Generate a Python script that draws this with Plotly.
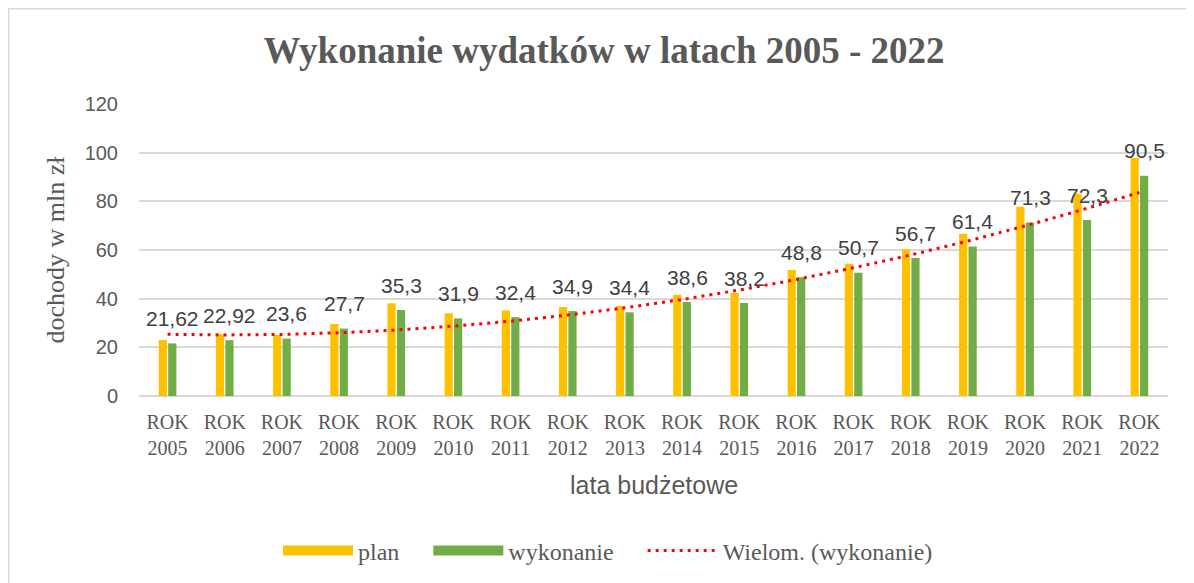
import numpy as np
import plotly.graph_objects as go

years = list(range(2005, 2023))
categories = [f"ROK<br>{y}" for y in years]
plan = [23.0, 25.4, 25.1, 29.6, 38.1, 34.0, 35.1, 36.6, 37.0, 41.6, 42.3, 51.8, 54.4, 60.3, 66.7, 77.8, 83.1, 97.8]
wykonanie = [21.62, 22.92, 23.6, 27.7, 35.3, 31.9, 32.4, 34.9, 34.4, 38.6, 38.2, 48.8, 50.7, 56.7, 61.4, 71.3, 72.3, 90.5]
y_ticks = [0, 20, 40, 60, 80, 100, 120]

# polynomial (order 2) trendline of "wykonanie", like Excel's "Wielom."
xi = np.arange(1, len(wykonanie) + 1)
coef = np.polyfit(xi, wykonanie, 2)
trend = np.polyval(coef, xi)

GRAY = "#595959"
SERIF = "Liberation Serif, Times New Roman, serif"
SANS = "Liberation Sans, Arial, sans-serif"
PLAN_C = "#FFC000"
WYK_C = "#70AD47"
PAD = "\u00a0" * 4

W, H = 1186, 575
L, T, R, B = 131, 96, 26, 187
PW, PH = W - L - R, H - T - B

fig = go.Figure()
fig.add_trace(go.Bar(name="plan", x=categories, y=plan, marker_color=PLAN_C,
                     marker_line_width=0, showlegend=False))
fig.add_trace(go.Bar(name="wykonanie", x=categories, y=wykonanie, marker_color=WYK_C,
                     marker_line_width=0, showlegend=False))
fig.add_trace(go.Scatter(name="Wielom. (wykonanie)", x=categories, y=trend, mode="lines",
                         line=dict(color="#FF0000", width=3, dash="3px,5px"), showlegend=False))
# legend entries (wide swatches like the original)
fig.add_trace(go.Scatter(name="plan" + PAD, x=[None], y=[None], mode="lines",
                         line=dict(color=PLAN_C, width=11)))
fig.add_trace(go.Scatter(name="wykonanie" + PAD, x=[None], y=[None], mode="lines",
                         line=dict(color=WYK_C, width=11)))
fig.add_trace(go.Scatter(name="Wielom. (wykonanie)", x=[None], y=[None], mode="lines",
                         line=dict(color="#FF0000", width=3, dash="3px,5px")))

annotations = []
for c, v in zip(categories, wykonanie):
    annotations.append(dict(x=c, y=v, xref="x", yref="y", text=f"{v:g}".replace(".", ","),
                            showarrow=False, xshift=5, yshift=25, yanchor="middle",
                            font=dict(family=SANS, size=21, color="#404040")))
annotations.append(dict(x=0.5, y=(PH - (485 - 8 - T)) / PH, xref="paper", yref="paper",
                        text="lata budżetowe", showarrow=False, yanchor="middle",
                        font=dict(family=SANS, size=25, color=GRAY)))
fig.update_layout(annotations=annotations)

fig.add_shape(type="rect", xref="paper", yref="paper",
              x0=(-L + 0.75) / PW, x1=(W - L + 10) / PW,
              y0=-(B + 10) / PH, y1=(PH + T - 0.75) / PH,
              line=dict(color="#D9D9D9", width=1.5), fillcolor="rgba(0,0,0,0)", layer="below")

fig.update_layout(
    width=W, height=H,
    margin=dict(l=L, r=R, t=T, b=B, autoexpand=False),
    paper_bgcolor="white", plot_bgcolor="white",
    barmode="group", bargap=0.67, bargroupgap=0.13,
    title=dict(text="<b>Wykonanie wydatków w latach 2005 - 2022</b>", x=(604 - 8) / W,
               xanchor="center", y=1 - 42 / H, yanchor="middle", yref="container",
               font=dict(family=SERIF, size=37, color=GRAY)),
    xaxis=dict(tickfont=dict(family=SERIF, size=20, color=GRAY), showgrid=False,
               showline=False, ticks="", ticklabelstandoff=12),
    yaxis=dict(range=[0, 120], tickvals=y_ticks, showgrid=True, gridcolor="#D9D9D9",
               gridwidth=1.5, zeroline=True, zerolinecolor="#D9D9D9", zerolinewidth=1.5,
               tickfont=dict(family=SANS, size=20, color=GRAY), ticks="", ticklen=0,
               ticklabelstandoff=20,
               title=dict(text="dochody w mln zł", font=dict(family=SERIF, size=26, color=GRAY),
                          standoff=12)),
    legend=dict(orientation="h", x=(608 - 8 - L) / PW, xanchor="center",
                y=(PH - (551 - 8 - T)) / PH, yanchor="middle",
                font=dict(family=SERIF, size=24, color=GRAY), itemwidth=70,
                traceorder="normal"),
    showlegend=True,
)

fig.write_html("out.html")
